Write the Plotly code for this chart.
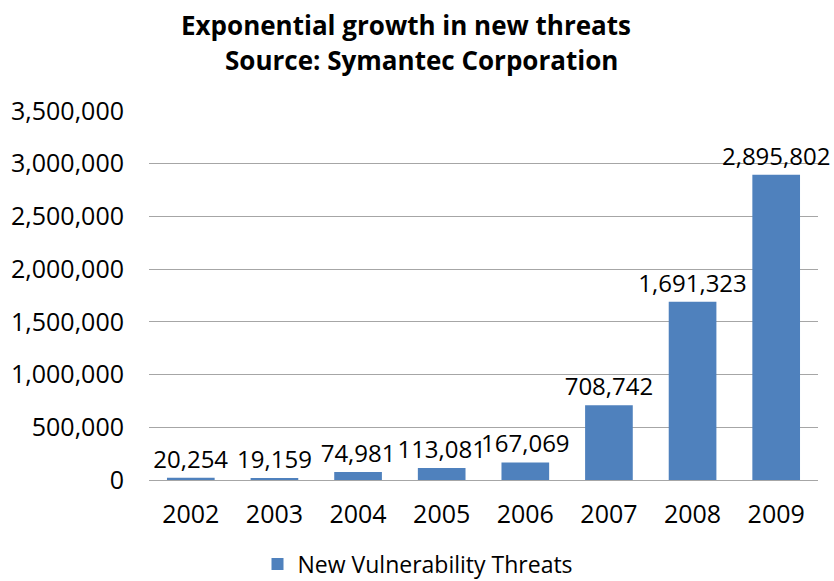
import plotly.graph_objects as go

years = ["2002", "2003", "2004", "2005", "2006", "2007", "2008", "2009"]
threats = [20254, 19159, 74981, 113081, 167069, 708742, 1691323, 2895802]
series_name = "New Vulnerability Threats"
title_line1 = "Exponential growth in new threats"
title_line2 = "Source: Symantec Corporation"

FONT = "Open Sans"
W, H = 834, 581
L, R, T, B = 149, 16, 111, 101

fig = go.Figure()
fig.add_trace(go.Bar(
    x=years, y=threats, name=series_name,
    marker=dict(color="#4F81BD", line=dict(width=0)),
    text=[f"{v:,}" for v in threats],
    textposition="outside", constraintext="none", cliponaxis=False,
    textfont=dict(family=FONT, size=24, color="#000000"),
    showlegend=True,
))

def py(ypx):
    return (H - B - ypx) / (H - T - B)

def px(xpx):
    return (xpx - L) / (W - L - R)

fig.add_annotation(text="<b>" + title_line1 + "</b>", x=px(406), y=py(25),
                   xref="paper", yref="paper", showarrow=False,
                   xanchor="center", yanchor="middle",
                   font=dict(family=FONT, size=26, color="#000000"))
fig.add_annotation(text="<b>" + title_line2 + "</b>", x=px(421), y=py(60),
                   xref="paper", yref="paper", showarrow=False,
                   xanchor="center", yanchor="middle",
                   font=dict(family=FONT, size=26, color="#000000"))

fig.update_layout(
    width=W, height=H,
    margin=dict(l=L, r=R, t=T, b=B, pad=0, autoexpand=False),
    paper_bgcolor="white", plot_bgcolor="white",
    bargap=0.43,
    font=dict(family=FONT, size=24, color="#000000"),
    xaxis=dict(showgrid=False, showline=False, ticks="", ticklen=0,
               ticklabelstandoff=17,
               tickfont=dict(family=FONT, size=25), fixedrange=True),
    yaxis=dict(range=[0, 3500000], dtick=500000, tickformat=",d",
               showgrid=True, gridcolor="#A6A6A6", gridwidth=1,
               zeroline=True, zerolinecolor="#A6A6A6", zerolinewidth=1,
               showline=False, ticks="", ticklabelstandoff=24,
               tickfont=dict(family=FONT, size=25)),
    legend=dict(orientation="h", x=px(418), y=py(564), xanchor="center",
                yanchor="middle", font=dict(family=FONT, size=23),
                itemwidth=30),
    showlegend=True,
)

fig.write_html("out.html")
